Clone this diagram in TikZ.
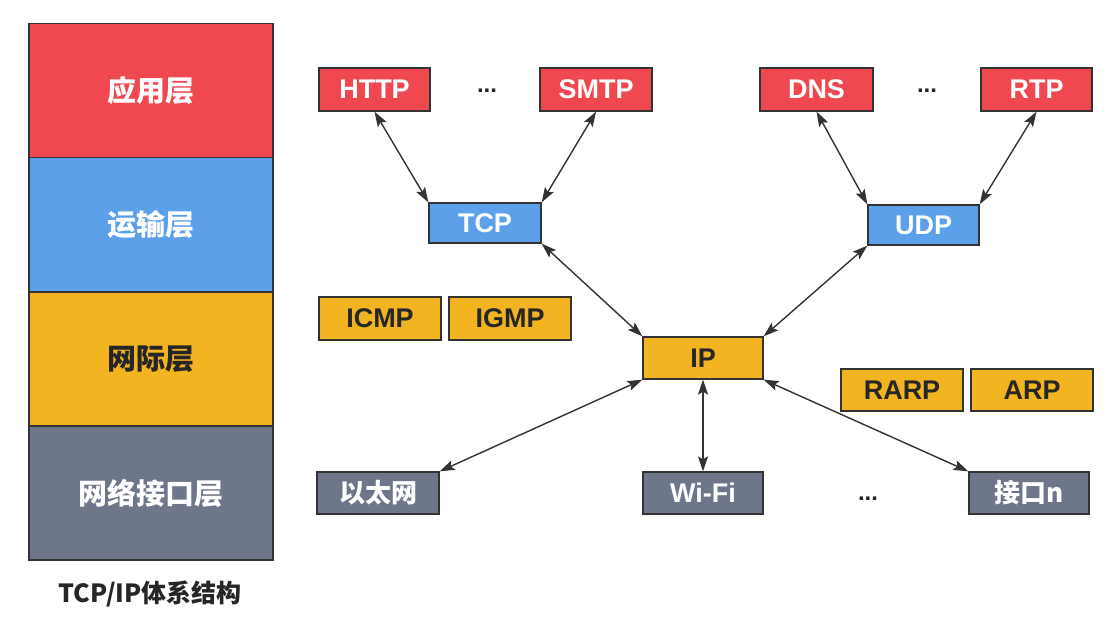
\documentclass[tikz,border=0pt]{standalone}
\usepackage{fontspec}
\setmainfont{Liberation Sans}
\newfontfamily\cjk{Noto Sans CJK SC}
\usetikzlibrary{arrows.meta}
\definecolor{appred}{HTML}{EF4850}
\definecolor{transblue}{HTML}{5BA0E9}
\definecolor{netyellow}{HTML}{F2B420}
\definecolor{linkgray}{HTML}{6E7689}
\definecolor{edge}{HTML}{333333}
\tikzset{
  box/.style={draw=edge, line width=1.3pt, inner sep=0pt, minimum width=112pt, minimum height=43pt,
    font=\fontsize{27}{30}\selectfont\bfseries},
  app/.style={box, fill=appred, text=white},
  trans/.style={box, fill=transblue, text=white},
  net/.style={box, fill=netyellow, text=black!85},
  lnk/.style={box, fill=linkgray, text=white},
  layer/.style={draw=edge, line width=1.3pt, inner sep=0pt, minimum width=244pt, minimum height=134pt,
    font=\cjk\bfseries\fontsize{29}{32}\selectfont},
  tip/.tip={Stealth[length=15pt,width=10pt,inset=3pt]},
  conn/.style={tip-tip, line width=1.4pt, draw=edge},
  dots/.style={inner sep=0pt, anchor=base, font=\fontsize{24}{24}\selectfont\bfseries, text=black!85},
}
\begin{document}
\begin{tikzpicture}[x=1pt,y=-1pt]
\useasboundingbox (0,0) rectangle (1107,626);
\fill[white] (0,0) rectangle (1107,626);
% layer column
\node[layer, fill=appred, text=white] (l1) at (151,90.5) {应用层};
\node[layer, fill=transblue, text=white] (l2) at (151,224.5) {运输层};
\node[layer, fill=netyellow, text=black!85] (l3) at (151,359) {网际层};
\node[layer, fill=linkgray, text=white] (l4) at (151,493) {网络接口层};
\node[font=\cjk\bfseries\fontsize{25}{28}\selectfont, text=black!85] (cap) at (150,594) {TCP/IP体系结构};
% application
\node[app, minimum width=111pt] (http) at (374.5,89.5) {HTTP};
\node[app] (smtp) at (596,89.5) {SMTP};
\node[app, minimum width=113pt] (dns) at (816.5,89.5) {DNS};
\node[app, minimum width=111pt] (rtp) at (1036.5,89.5) {RTP};
\node[dots] (d1) at (487,92) {...};
\node[dots] (d2) at (927,92) {...};
% transport
\node[trans, minimum height=40pt] (tcp) at (485,223) {TCP};
\node[trans, minimum width=111pt, minimum height=40pt] (udp) at (923.5,225) {UDP};
% internet
\node[net, minimum width=122pt] (icmp) at (380,318.5) {ICMP};
\node[net, minimum width=122pt] (igmp) at (510,318.5) {IGMP};
\node[net, minimum width=120pt, minimum height=42pt] (ip) at (703,358) {IP};
\node[net, minimum width=122pt, minimum height=42pt] (rarp) at (902,390) {RARP};
\node[net, minimum width=122pt, minimum height=42pt] (arp) at (1032,390) {ARP};
% link
\node[lnk, minimum width=122pt, minimum height=42pt, font=\cjk\bfseries\fontsize{26}{28}\selectfont] (eth) at (378,493) {以太网};
\node[lnk, minimum width=120pt, minimum height=42pt] (wifi) at (703,493) {Wi-Fi};
\node[lnk, minimum width=120pt, minimum height=42pt, font=\cjk\bfseries\fontsize{26}{28}\selectfont] (ifn) at (1029,493) {接口n};
\node[dots] (d3) at (868,500) {...};
% connectors
\draw[conn] (http.south) -- (tcp.north west);
\draw[conn] (smtp.south) -- (tcp.north east);
\draw[conn] (dns.south) -- (udp.north west);
\draw[conn] (rtp.south) -- (udp.north east);
\draw[conn] (tcp.south east) -- (ip.north west);
\draw[conn] (udp.south west) -- (ip.north east);
\draw[conn] (ip.south west) -- (eth.north east);
\draw[conn] (ip.south) -- (wifi.north);
\draw[conn] (ip.south east) -- (ifn.north west);
\end{tikzpicture}
\end{document}
